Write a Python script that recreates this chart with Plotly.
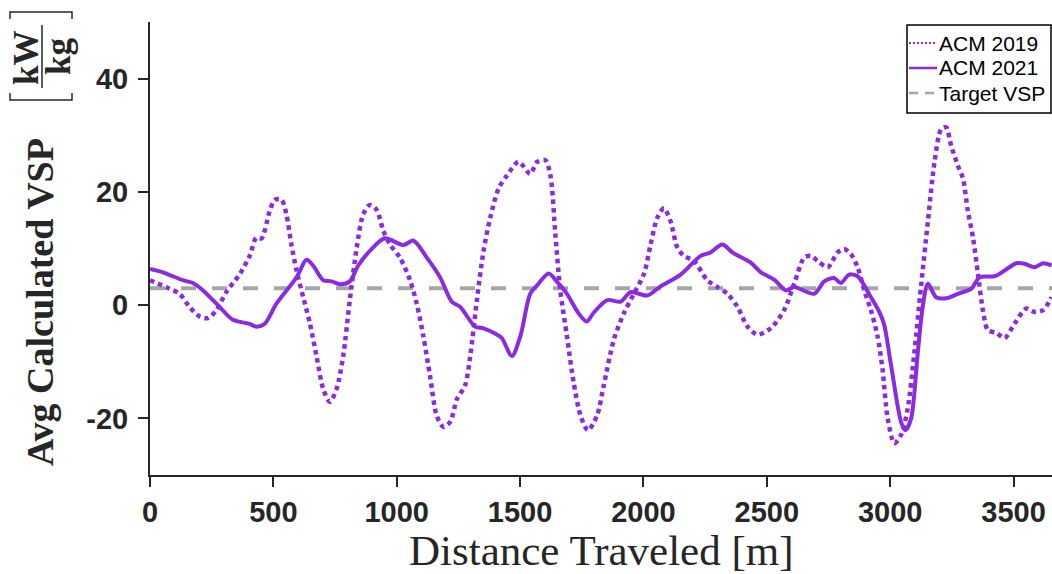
import plotly.graph_objects as go

# Distance traveled [m] and averaged VSP [kW/kg] for each vehicle
distance_2019 = [0, 79, 120, 160, 201, 235, 269, 309, 364, 404, 431, 452, 485, 506, 533, 553, 573, 594,
                 621, 648, 675, 702, 729, 756, 783, 810, 838, 864, 891, 919, 946, 973, 1013, 1054, 1081,
                 1108, 1135, 1162, 1189, 1217, 1244, 1277, 1298, 1325, 1352, 1379, 1413, 1447, 1494, 1541,
                 1569, 1602, 1623, 1643, 1663, 1690, 1717, 1745, 1775, 1812, 1839, 1880, 1920, 1961, 2002,
                 2029, 2056, 2083, 2110, 2137, 2164, 2205, 2259, 2300, 2340, 2381, 2422, 2462, 2516, 2570,
                 2611, 2652, 2679, 2706, 2747, 2787, 2814, 2841, 2868, 2895, 2922, 2949, 2969, 2990, 3017,
                 3044, 3071, 3098, 3125, 3153, 3180, 3207, 3227, 3247, 3274, 3295, 3315, 3336, 3356, 3376,
                 3396, 3430, 3464, 3505, 3552, 3586, 3620, 3654]
vsp_2019 = [4.4, 2.9, 2.0, -0.3, -2.0, -2.3, -0.9, 2.3, 5.5, 8.7, 11.9, 11.8, 16.6, 18.6, 18.6, 16.0, 10.7,
            6.1, 1.4, -3.2, -9.0, -14.8, -17.1, -14.8, -9.0, 0.9, 10.2, 16.0, 17.7, 16.8, 13.1, 10.7, 8.4,
            4.4, 0.3, -5.5, -12.5, -19.5, -21.5, -20.6, -16.6, -14.2, -9.0, 0.9, 9.6, 15.4, 20.6, 22.9,
            25.3, 23.2, 25.3, 25.6, 22.9, 12.5, 2.6, -5.5, -13.6, -19.5, -22.1, -19.5, -14.2, -6.1, -1.5,
            2.0, 5.5, 10.7, 15.4, 17.1, 14.8, 10.2, 8.7, 7.8, 4.4, 3.2, 2.0, -0.3, -3.8, -5.2, -4.1, -0.9,
            3.8, 8.4, 8.7, 7.8, 6.7, 9.3, 9.9, 9.0, 6.7, 2.6, -0.9, -5.5, -11.3, -20.0, -24.4, -22.9,
            -18.3, -8.4, 3.2, 14.8, 25.3, 31.1, 31.4, 28.2, 24.7, 22.4, 16.6, 11.9, 5.5, -0.9, -4.4, -4.9,
            -5.8, -3.2, -0.6, -1.2, -0.9, 1.4]

distance_2021 = [0, 52, 133, 174, 215, 282, 336, 404, 431, 465, 513, 594, 634, 661, 702, 736, 770, 810,
                 844, 898, 952, 1027, 1067, 1122, 1176, 1223, 1257, 1318, 1352, 1406, 1426, 1467, 1501,
                 1541, 1569, 1616, 1650, 1690, 1738, 1770, 1799, 1853, 1907, 1948, 2015, 2069, 2151, 2232,
                 2272, 2320, 2361, 2435, 2476, 2530, 2577, 2611, 2692, 2733, 2773, 2800, 2834, 2868, 2922,
                 2956, 2976, 3004, 3044, 3062, 3085, 3112, 3132, 3153, 3186, 3227, 3275, 3329, 3362, 3423,
                 3464, 3511, 3545, 3586, 3620, 3654]
vsp_2021 = [6.4, 5.8, 4.4, 3.9, 2.6, -0.3, -2.6, -3.3, -3.8, -3.3, 0.3, 4.9, 8.0, 7.0, 4.4, 4.2, 3.7, 4.2,
            7.0, 9.9, 11.8, 10.6, 11.4, 8.4, 4.9, 0.6, -0.3, -3.8, -4.1, -5.2, -5.8, -9.0, -5.5, 2.0, 3.5,
            5.6, 4.1, 2.0, -1.5, -2.9, -1.3, 0.9, 0.6, 2.3, 1.7, 3.3, 5.4, 8.7, 9.3, 10.7, 9.3, 7.5, 5.8,
            4.5, 2.6, 3.2, 2.0, 4.2, 4.8, 3.9, 5.4, 5.1, 1.4, -1.2, -3.5, -10.7, -20.6, -22.1, -20.0, -8.4,
            -0.3, 3.8, 1.4, 1.2, 2.0, 2.9, 4.9, 5.1, 6.1, 7.4, 7.3, 6.7, 7.4, 7.0]

target_vsp = 3.0

x_ticks = [0, 500, 1000, 1500, 2000, 2500, 3000, 3500]
y_ticks = [-20, 0, 20, 40]
y_tick_text = ["-20", "0", "20", "40"]
x_range = [0, 3656]
y_range = [-30, 50]

series_names = ["ACM 2019", "ACM 2021", "Target VSP"]

PURPLE = "rgb(138,43,226)"
GRAY = "rgb(166,166,166)"
INK = "#262626"

W, H = 1052, 574
ML, MR, MT, MB = 150, 0, 22, 99
PW, PH = W - ML - MR, H - MT - MB


def px(xp):
    """Pixel column -> paper x."""
    return (xp - ML) / PW


def py(yp):
    """Pixel row -> paper y."""
    return 1 - (yp - MT) / PH


styles = [
    dict(color=PURPLE, width=4.5, dash="4.5px,4px"),
    dict(color=PURPLE, width=4),
    dict(color=GRAY, width=4, dash="15px,16px"),
]

fig = go.Figure()
fig.add_trace(go.Scatter(
    x=x_range, y=[target_vsp] * 2, mode="lines", name=series_names[2], line=styles[2],
))
fig.add_trace(go.Scatter(
    x=distance_2019, y=vsp_2019, mode="lines", name=series_names[0],
    line=dict(**styles[0], shape="spline", smoothing=0.8),
))
fig.add_trace(go.Scatter(
    x=distance_2021, y=vsp_2021, mode="lines", name=series_names[1],
    line=dict(**styles[1], shape="spline", smoothing=0.8),
))

tick_font = dict(family="Liberation Sans", size=29, color=INK, weight="bold")
axis_common = dict(
    showline=True, linecolor=INK, linewidth=2, ticks="outside", ticklen=10, tickwidth=2,
    tickcolor=INK, tickfont=tick_font, showgrid=False, zeroline=False,
)

fig.update_layout(
    width=W, height=H,
    margin=dict(l=ML, r=MR, t=MT, b=MB, pad=0),
    paper_bgcolor="white", plot_bgcolor="white",
    xaxis=dict(range=x_range, tickvals=x_ticks, **axis_common),
    yaxis=dict(range=y_range, tickvals=y_ticks, ticktext=y_tick_text,
               ticklabelstandoff=4, **axis_common),
    showlegend=False,
)

# axis titles
serif = "Liberation Serif"
fig.add_annotation(
    text="Distance Traveled [m]", x=0.5, y=py(550), xref="paper", yref="paper",
    xanchor="center", yanchor="middle", showarrow=False,
    font=dict(family=serif, size=43, color=INK),
)
fig.add_annotation(
    text="Avg Calculated VSP", x=px(40), y=py(302), xref="paper", yref="paper",
    xanchor="center", yanchor="middle", showarrow=False, textangle=-90,
    font=dict(family=serif, size=38, color=INK, weight="bold"),
)
fig.add_annotation(
    text="kW", x=px(27), y=py(58), xref="paper", yref="paper",
    xanchor="center", yanchor="middle", showarrow=False, textangle=-90,
    font=dict(family=serif, size=35, color=INK, weight="bold"),
)
fig.add_annotation(
    text="kg", x=px(59), y=py(57), xref="paper", yref="paper",
    xanchor="center", yanchor="middle", showarrow=False, textangle=-90,
    font=dict(family=serif, size=35, color=INK, weight="bold"),
)

# fraction bar and square brackets around the unit
unit_line = dict(color=INK, width=1.5)
fig.add_shape(type="line", xref="paper", yref="paper",
              x0=px(42), x1=px(42), y0=py(25), y1=py(88), line=unit_line)
for y_bar, y_tip in ((100, 93), (12, 19)):
    path = (f"M {px(10)},{py(y_tip)} L {px(10)},{py(y_bar)} "
            f"L {px(72)},{py(y_bar)} L {px(72)},{py(y_tip)}")
    fig.add_shape(type="path", xref="paper", yref="paper", path=path, line=unit_line)

# legend box in the upper right corner
fig.add_shape(type="rect", xref="paper", yref="paper", layer="above",
              x0=px(907), x1=px(1051), y0=py(113), y1=py(25),
              fillcolor="white", line=dict(color="black", width=1.5))
legend_rows = [43, 68, 93]
sample_styles = [
    dict(color=PURPLE, width=2, dash="2px,2px"),
    dict(color=PURPLE, width=2.5),
    dict(color=GRAY, width=2.5, dash="9px,7px"),
]
for name, row, sty in zip(series_names, legend_rows, sample_styles):
    fig.add_shape(type="line", xref="paper", yref="paper", layer="above",
                  x0=px(909), x1=px(937), y0=py(row), y1=py(row), line=sty)
    fig.add_annotation(
        text=name, x=px(937), y=py(row), xref="paper", yref="paper",
        xanchor="left", yanchor="middle", showarrow=False,
        font=dict(family="Liberation Sans", size=21, color="black"),
    )

fig.write_html("out.html")
